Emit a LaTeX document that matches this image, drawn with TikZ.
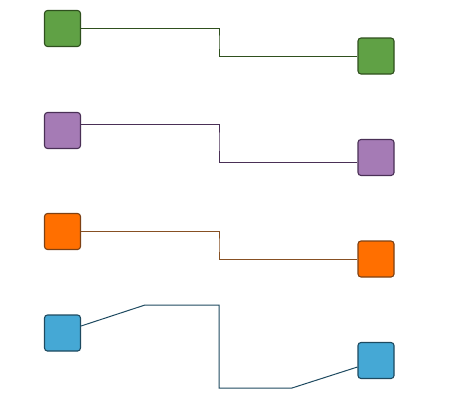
\documentclass[tikz,border=0pt]{standalone}
\usetikzlibrary{calc}
\definecolor{gfill}{RGB}{96,161,69}
\definecolor{gline}{RGB}{47,80,30}
\definecolor{pfill}{RGB}{165,123,181}
\definecolor{pline}{RGB}{74,48,86}
\definecolor{ofill}{RGB}{255,111,0}
\definecolor{oline}{RGB}{125,65,20}
\definecolor{ocon}{RGB}{135,80,35}
\definecolor{bfill}{RGB}{69,168,213}
\definecolor{bline}{RGB}{30,74,96}
\tikzset{
  sq/.style={rectangle, rounded corners=3pt, minimum width=36pt, minimum height=36pt, inner sep=0pt, line width=1.1pt},
  conn/.style={line width=1pt},
}
\begin{document}
\begin{tikzpicture}[x=1pt,y=-1pt]
\useasboundingbox (0,0) rectangle (460,400);
% row 1
\node[sq, fill=gfill, draw=gline] (g1) at (62.5,28.5) {};
\node[sq, fill=gfill, draw=gline] (g2) at (376,56) {};
\draw[conn, gline] (g1.east) -| (219,42) |- (g2.west);
% row 2
\node[sq, fill=pfill, draw=pline] (p1) at (62.5,130.5) {};
\node[sq, fill=pfill, draw=pline] (p2) at (376,157.5) {};
\draw[conn, pline] ([yshift=6.5pt]p1.east) -| (219,140) |- ([yshift=-5pt]p2.west);
% row 3
\node[sq, fill=ofill, draw=oline] (o1) at (62.5,231.5) {};
\node[sq, fill=ofill, draw=oline] (o2) at (376,259) {};
\draw[conn, ocon] (o1.east) -| (219,245) |- (o2.west);
% row 4
\node[sq, fill=bfill, draw=bline] (b1) at (62.5,333) {};
\node[sq, fill=bfill, draw=bline] (b2) at (376,360.5) {};
\coordinate (b4a) at (145,305);
\coordinate (b4b) at (219,305);
\coordinate (b4c) at (219,388);
\coordinate (b4d) at (292,388);
\draw[conn, bline] ([yshift=7pt]b1.east) -- (b4a) -- (b4b) -- (b4c) -- (b4d) -- ([yshift=-6.5pt]b2.west);
\end{tikzpicture}
\end{document}
